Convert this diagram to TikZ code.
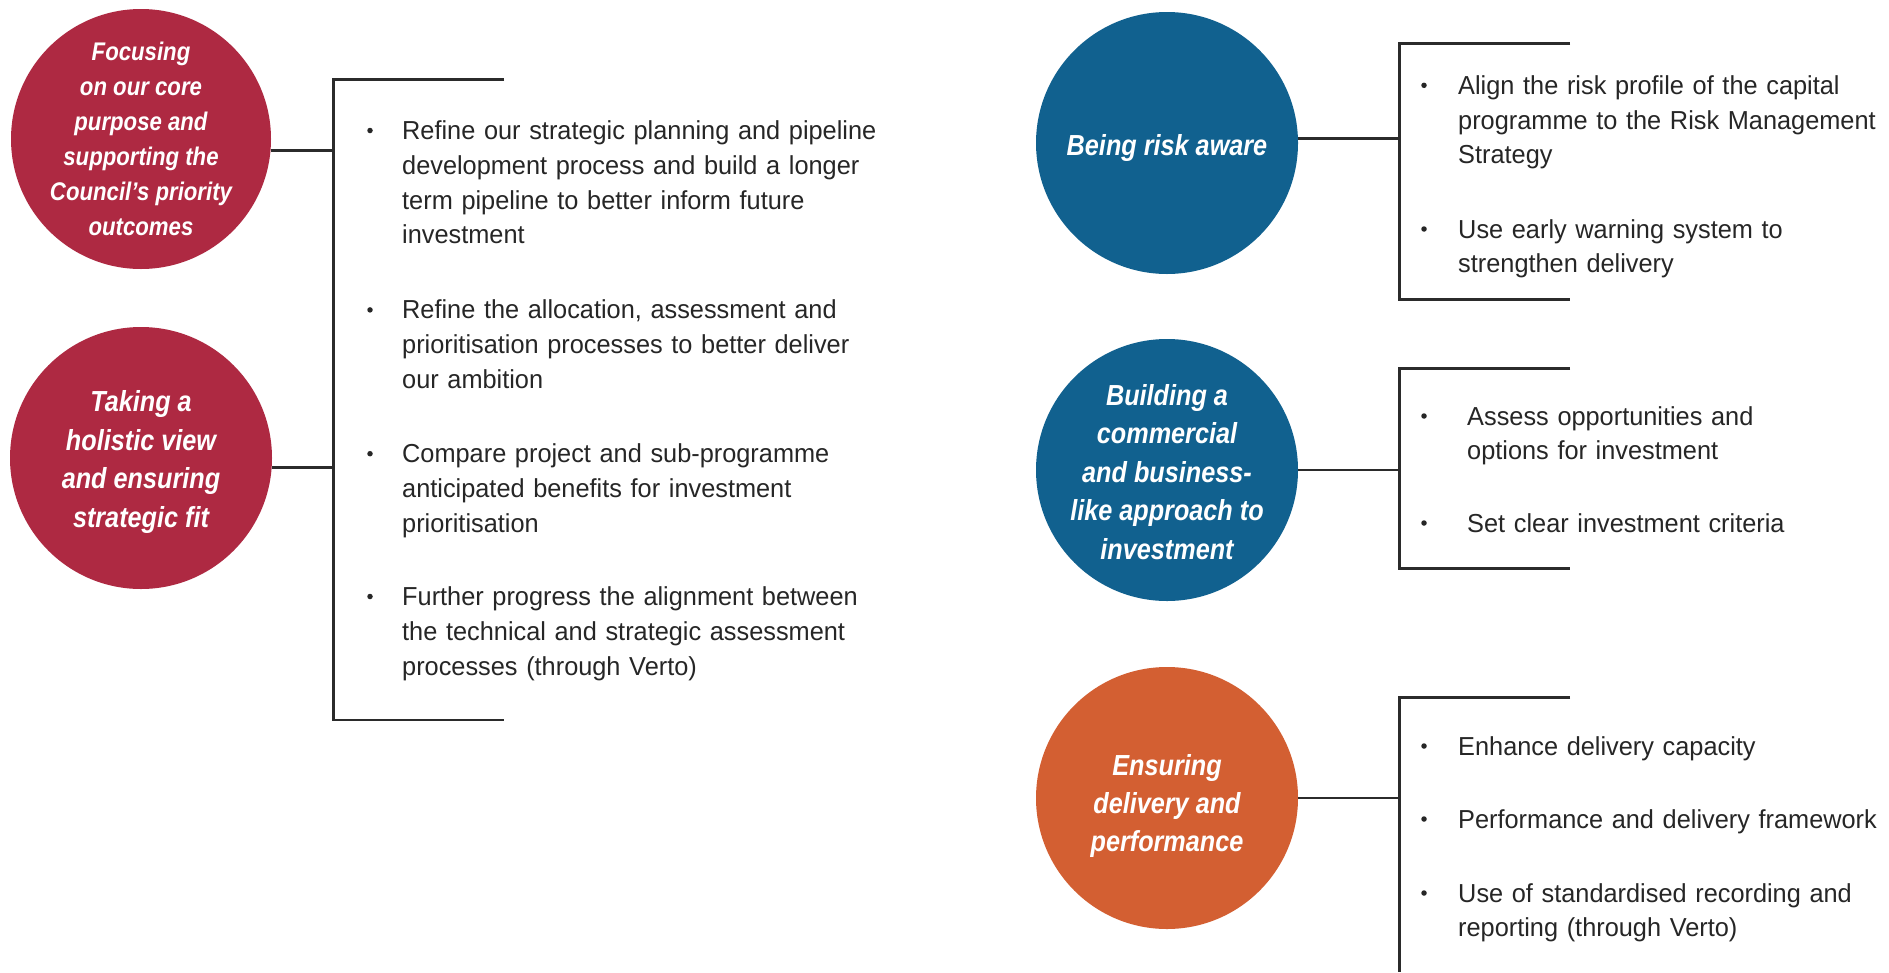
\documentclass[tikz,border=0pt]{standalone}
\usepackage{fontspec}
\setmainfont{Liberation Sans}[FakeStretch=0.974]
\newfontfamily\circfont[FakeStretch=0.87]{Liberation Sans}
\definecolor{crim}{HTML}{AE2942}
\definecolor{blu}{HTML}{11618F}
\definecolor{ora}{HTML}{D35F32}
\definecolor{txt}{HTML}{262626}
\definecolor{ln}{HTML}{2B2B2B}
\tikzset{
  circ/.style={circle, minimum size=262pt, inner sep=0pt},
  ctext/.style={inner sep=0pt, text=white, align=center,
    font=\circfont\bfseries\itshape\fontsize{29}{38.4}\selectfont},
  item/.style={anchor=base west, inner sep=0pt, text width=520pt, align=left, text=txt,
    font=\fontsize{26}{34.8}\selectfont},
  bul/.style={circle, fill=txt, minimum size=5.5pt, inner sep=0pt},
  bar/.style={draw=ln, line width=2.8pt},
}
\begin{document}
\begin{tikzpicture}[x=1pt,y=-1pt]
\useasboundingbox[fill=white] (0,0) rectangle (1889,972);

% circles
\node[circ, fill=crim, minimum size=260pt] (c1) at (141,139) {};
\node[circ, fill=crim] (c2) at (141,458) {};
\node[circ, fill=blu] (c3) at (1167,143) {};
\node[circ, fill=blu] (c4) at (1167,470) {};
\node[circ, fill=ora] (c5) at (1167,798) {};

% circle texts
\node[ctext, font=\circfont\bfseries\itshape\fontsize{25.5}{35}\selectfont, yshift=0pt] (c1t) at (c1) {Focusing\\on our core\\purpose and\\supporting the\\Council’s priority\\outcomes};
\node[ctext, yshift=-4pt] (c2t) at (c2) {Taking a\\holistic view\\and ensuring\\strategic fit};
\node[ctext, yshift=-5pt] (c3t) at (c3) {Being risk aware};
\node[ctext, yshift=-2pt] (c4t) at (c4) {Building a\\commercial\\and business-\\like approach to\\investment};
\node[ctext, yshift=-8pt] (c5t) at (c5) {Ensuring\\delivery and\\performance};

% brackets
\coordinate (La) at (504,79.5);  \coordinate (Lb) at (333.5,720); \coordinate (Lc) at (504,720);
\draw[bar] (La) -| (Lb) -- (Lc);
\coordinate (Ra) at (1570,43.3);  \coordinate (Rb) at (1399.5,299.2); \coordinate (Rc) at (1570,299.2);
\draw[bar] (Ra) -| (Rb) -- (Rc);
\coordinate (Sa) at (1570,368.8); \coordinate (Sb) at (1399.5,568.8); \coordinate (Sc) at (1570,568.8);
\draw[bar] (Sa) -| (Sb) -- (Sc);
\coordinate (Ta) at (1570,697.5); \coordinate (Tb) at (1399.5,972);
\draw[bar] (Ta) -| (Tb);

% connectors
\draw[bar] (c1.-5.5) -- (c1.-5.5 -| Lb);
\draw[bar] (c2.-4.3) -- (c2.-4.3 -| Lb);
\draw[bar] (c3.2.6) -- (c3.2.6 -| Rb);
\draw[bar] (c4.0) -- (c4.0 -| Sb);
\draw[bar] (c5.0.9) -- (c5.0.9 -| Tb);

% left items
\node[bul] (lb1) at (370,130.5) {};
\node[item] (l1) at (402,139.5) {Refine our strategic planning and pipeline\\development process and build a longer\\term pipeline to better inform future\\investment};
\node[bul] (lb2) at (370,309.9) {};
\node[item] (l2) at (402,318.9) {Refine the allocation, assessment and\\prioritisation processes to better deliver\\our ambition};
\node[bul] (lb3) at (370,453.7) {};
\node[item] (l3) at (402,462.7) {Compare project and sub-programme\\anticipated benefits for investment\\prioritisation};
\node[bul] (lb4) at (370,596.5) {};
\node[item] (l4) at (402,605.5) {Further progress the alignment between\\the technical and strategic assessment\\processes (through Verto)};

% right group 1
\node[bul] (rb1) at (1424,85.3) {};
\node[item] (r1) at (1458,94.3) {Align the risk profile of the capital\\programme to the Risk Management\\Strategy};
\node[bul] (rb2) at (1424,229) {};
\node[item] (r2) at (1458,238) {Use early warning system to\\strengthen delivery};

% right group 2
\node[bul] (sb1) at (1424,416) {};
\node[item] (s1) at (1467,425) {Assess opportunities and\\options for investment};
\node[bul] (sb2) at (1424,523) {};
\node[item] (s2) at (1467,532) {Set clear investment criteria};

% right group 3
\node[bul] (tb1) at (1424,746) {};
\node[item] (t1) at (1458,755) {Enhance delivery capacity};
\node[bul] (tb2) at (1424,819) {};
\node[item] (t2) at (1458,828) {Performance and delivery framework};
\node[bul] (tb3) at (1424,893) {};
\node[item] (t3) at (1458,902) {Use of standardised recording and\\reporting (through Verto)};
\end{tikzpicture}
\end{document}
